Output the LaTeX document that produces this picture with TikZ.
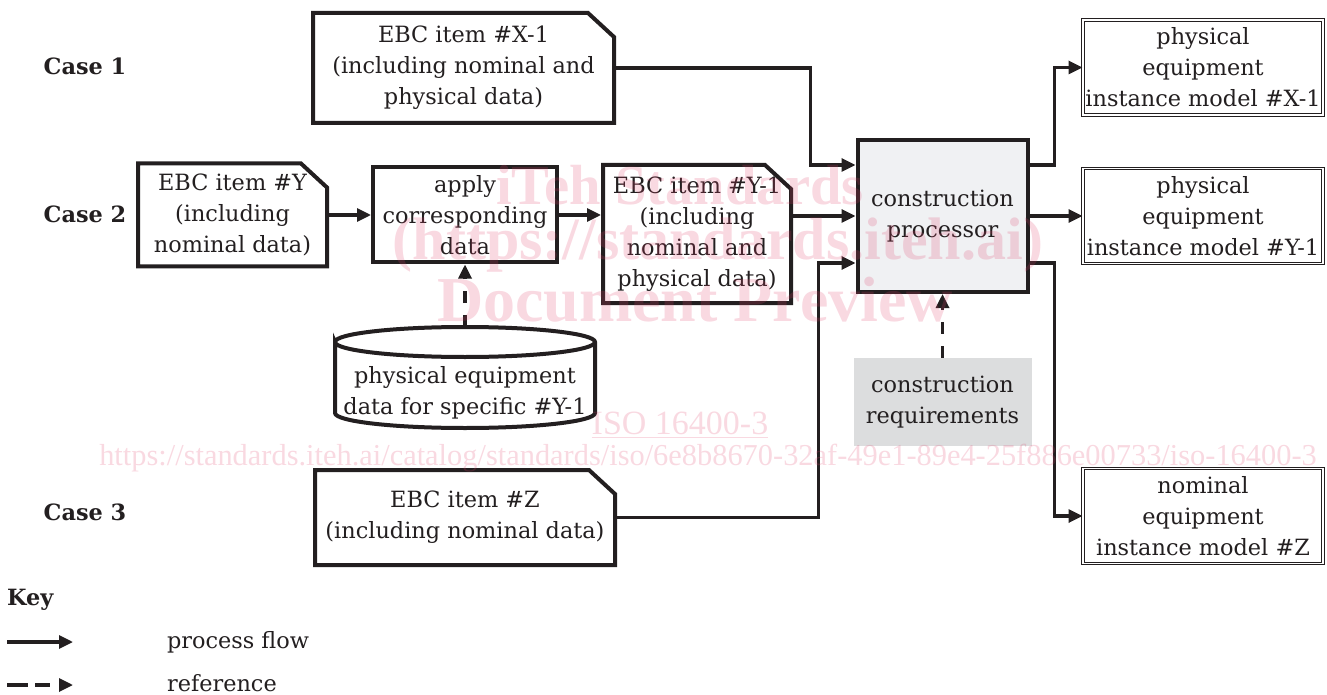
\documentclass[tikz,border=0pt]{standalone}
\usepackage{fontspec}
\setmainfont{DejaVu Serif}
\newfontfamily\wmfont{Liberation Serif}
\usetikzlibrary{positioning, calc, arrows.meta}

\definecolor{inkblack}{HTML}{231F20}
\definecolor{procgray}{HTML}{F0F1F3}
\definecolor{reqgray}{HTML}{DCDDDE}
\definecolor{wmpink}{HTML}{E0406A}

\tikzset{
  every node/.style={font=\fontsize{11.2}{15.5}\selectfont, text=inkblack, align=center},
  Box/.style={rectangle, draw=inkblack, line width=2pt, inner sep=1pt},
  Doc/.style={rectangle, inner sep=1pt, outer sep=1pt},
  DocLine/.style={draw=inkblack, line width=2pt, line join=miter},
  Model/.style={rectangle, draw=inkblack, double, double distance=0.8pt,
    line width=0.5pt, inner sep=1pt, minimum width=120pt, minimum height=47.5pt},
  Flow/.style={draw=inkblack, line width=1.6pt, -{Triangle[length=7pt,width=6.5pt]}},
  Ref/.style={Flow, dash pattern=on 6pt off 6pt},
  Case/.style={font=\fontsize{11.2}{15.5}\selectfont\bfseries},
  Mark/.style={text=wmpink, text opacity=0.2}
}

\begin{document}
\begin{tikzpicture}[x=0.5pt, y=-0.5pt]
  \useasboundingbox (0,0) rectangle (1327,695);

  % cases
  \node [Case] (case1) at (85,66) {Case 1};
  \node [Case] (case2) at (85,214) {Case 2};
  \node [Case] (case3) at (85,512) {Case 3};

  % inputs
  \node [Doc, minimum width=150.5pt, minimum height=55pt] (x1) at (463.5,68)
    {EBC item \#X-1\\(including nominal and\\physical data)};
  \node [Doc, minimum width=94.5pt, minimum height=51.5pt] (y) at (232.5,215)
    {EBC item \#Y\\(including\\nominal data)};
  \node [Box, minimum width=92pt, minimum height=47.5pt] (apply) at (465,215)
    {apply\\corresponding\\data};
  \node [Doc, minimum width=94pt, minimum height=69pt] (y1) at (697,234)
    {EBC item \#Y-1\\(including\\nominal and\\physical data)};
  \node [Doc, minimum width=150pt, minimum height=47.5pt] (z) at (465,517.5)
    {EBC item \#Z\\(including nominal data)};
  \foreach \n in {x1, y, y1, z}
    \draw [DocLine] ([shift={(1pt,1pt)}]\n.south west) -- ([shift={(1pt,-1pt)}]\n.north west)
      -- ([shift={(-14pt,-1pt)}]\n.north east) -- ([shift={(-1pt,-13pt)}]\n.north east)
      -- ([shift={(-1pt,1pt)}]\n.south east) -- cycle;

  % data store
  \node [minimum width=130pt, minimum height=35.5pt, outer sep=0pt] (cyl) at (465,392.5)
    {physical equipment\\data for specific \#Y-1};
  \draw [inkblack, line width=2pt] ([yshift=7.5pt]cyl.north west)
    arc [start angle=180, end angle=-180, x radius=65pt, y radius=7.5pt]
    -- ([yshift=7.5pt]cyl.south west)
    arc [start angle=180, end angle=360, x radius=65pt, y radius=7.5pt]
    -- ([yshift=7.5pt]cyl.north east);

  % processor
  \node [Box, fill=procgray, minimum width=85pt, minimum height=76pt] (proc) at (942.5,216)
    {construction\\processor};
  \node [fill=reqgray, minimum width=89pt, minimum height=44pt] (req) at (942.5,402)
    {construction\\requirements};

  % outputs
  \node [Model] (mx1) at (1203,67.5) {physical\\equipment\\instance model \#X-1};
  \node [Model] (my1) at (1203,216) {physical\\equipment\\instance model \#Y-1};
  \node [Model] (mz) at (1203,516) {nominal\\equipment\\instance model \#Z};

  % process flow
  \draw [Flow] (y.east) -- (apply.west);
  \draw [Flow] (apply.east) -- (apply.east -| y1.west);
  \draw [Flow] (x1.east) -| ([xshift=-22.5pt, yshift=25.5pt]proc.west) -- ([yshift=25.5pt]proc.west);
  \draw [Flow] (proc.west -| y1.east) -- (proc.west);
  \draw [Flow] (z.east) -| ([xshift=-18.5pt, yshift=-23.5pt]proc.west) -- ([yshift=-23.5pt]proc.west);
  \draw [Flow] ([yshift=25.5pt]proc.east) -| ([xshift=-14pt]mx1.west) -- (mx1.west);
  \draw [Flow] (proc.east) -- (my1.west);
  \draw [Flow] ([yshift=-23.5pt]proc.east) -| ([xshift=-14pt]mz.west) -- (mz.west);

  % references
  \draw [Ref] ([yshift=15pt]cyl.north) -- (apply.south);
  \draw [Ref] (req.north) -- (proc.south);

  % key
  \node [Case, anchor=west] (key) at (0,600) {Key};
  \coordinate (kf1) at (7,642);
  \coordinate (kf2) at (73,642);
  \coordinate (kr1) at (7,685);
  \coordinate (kr2) at (73,685);
  \draw [Flow] (kf1) -- (kf2);
  \draw [Ref, dash pattern=on 10.5pt off 3.5pt on 7.5pt off 6pt] (kr1) -- (kr2);
  \node [anchor=west] (kflow) at (160,642) {process flow};
  \node [anchor=west] (kref) at (160,683) {reference};

  % watermark
  \node [Mark, font=\wmfont\bfseries\fontsize{28.3}{28.3}\selectfont] (wm1) at (680,185) {iTeh Standards};
  \node [Mark, font=\wmfont\bfseries\fontsize{30}{30}\selectfont] (wm2) at (718,245) {(https://standards.iteh.ai)};
  \node [Mark, font=\wmfont\bfseries\fontsize{32}{32}\selectfont] (wm3) at (695,300) {Document Preview};
  \node [Mark, font=\wmfont\fontsize{17}{17}\selectfont] (wmiso) at (680,425) {\underline{ISO 16400-3}};
  \node [Mark, font=\wmfont\fontsize{15.2}{15.2}\selectfont] (wmurl) at (708,458)
    {https://standards.iteh.ai/catalog/standards/iso/6e8b8670-32af-49e1-89e4-25f886e00733/iso-16400-3};
\end{tikzpicture}
\end{document}
